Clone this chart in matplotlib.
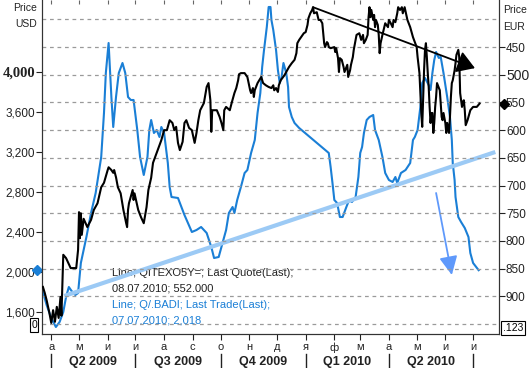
import numpy as np
import pandas as pd
import matplotlib
matplotlib.use("Agg")
import matplotlib.pyplot as plt
import matplotlib.transforms as mtransforms

plt.rcParams['font.family'] = ['Liberation Sans', 'DejaVu Sans']

# === Q/.BADI, USD (left axis) ===
blue_dates = ['2009-03-23', '2009-03-27', '2009-04-01', '2009-04-06', '2009-04-10', '2009-04-14',
              '2009-04-17', '2009-04-20', '2009-04-23', '2009-04-27', '2009-04-30', '2009-05-03',
              '2009-05-09', '2009-05-14', '2009-05-19', '2009-05-25', '2009-05-28', '2009-05-30',
              '2009-06-02', '2009-06-05', '2009-06-07', '2009-06-10', '2009-06-13', '2009-06-17',
              '2009-06-20', '2009-06-23', '2009-06-26', '2009-06-29', '2009-07-03', '2009-07-06',
              '2009-07-10', '2009-07-14', '2009-07-16', '2009-07-18', '2009-07-21', '2009-07-24',
              '2009-07-27', '2009-07-29', '2009-08-01', '2009-08-05', '2009-08-07', '2009-08-09',
              '2009-08-16', '2009-08-23', '2009-08-31', '2009-09-05', '2009-09-10', '2009-09-16',
              '2009-09-21', '2009-09-24', '2009-09-29', '2009-10-04', '2009-10-07', '2009-10-10',
              '2009-10-14', '2009-10-16', '2009-10-19', '2009-10-23', '2009-10-27', '2009-10-30',
              '2009-11-03', '2009-11-07', '2009-11-10', '2009-11-13', '2009-11-15', '2009-11-17',
              '2009-11-20', '2009-11-22', '2009-11-24', '2009-11-25', '2009-11-27', '2009-11-30',
              '2009-12-02', '2009-12-04', '2009-12-06', '2009-12-08', '2009-12-11', '2009-12-13',
              '2009-12-14', '2009-12-17', '2009-12-20', '2009-12-25', '2010-01-26', '2010-01-28',
              '2010-01-30', '2010-02-01', '2010-02-04', '2010-02-07', '2010-02-10', '2010-02-14',
              '2010-02-17', '2010-02-20', '2010-02-24', '2010-02-27', '2010-03-01', '2010-03-03',
              '2010-03-05', '2010-03-08', '2010-03-11', '2010-03-15', '2010-03-17', '2010-03-21',
              '2010-03-25', '2010-03-28', '2010-04-01', '2010-04-05', '2010-04-08', '2010-04-10',
              '2010-04-14', '2010-04-19', '2010-04-24', '2010-04-27', '2010-04-29', '2010-05-02',
              '2010-05-05', '2010-05-07', '2010-05-10', '2010-05-14', '2010-05-16', '2010-05-18',
              '2010-05-20', '2010-05-22', '2010-05-25', '2010-05-27', '2010-05-30', '2010-06-03',
              '2010-06-06', '2010-06-08', '2010-06-09', '2010-06-11', '2010-06-12', '2010-06-15',
              '2010-06-18', '2010-06-22', '2010-06-26', '2010-06-28', '2010-07-01', '2010-07-07']
blue_usd = [1800, 1670, 1540, 1450, 1500, 1600,
            1750, 1850, 1810, 1770, 1790, 2090,
            2350, 2590, 2790, 3150, 3590, 3990,
            4290, 3750, 3450, 3750, 3990, 4090,
            3990, 3750, 3720, 3720, 3420, 3150,
            2970, 3150, 3420, 3520, 3390, 3420,
            3350, 3450, 3390, 3090, 2850, 2750,
            2740, 2570, 2400, 2420, 2450, 2390,
            2250, 2140, 2150, 2320, 2420, 2590,
            2650, 2590, 2720, 2850, 2990, 3020,
            3190, 3320, 3590, 3790, 4050, 4220,
            4450, 4650, 4650, 4520, 4420, 4220,
            4020, 3890, 3950, 4090, 3990, 3850,
            3650, 3550, 3490, 3440, 3190, 3050,
            2890, 2720, 2690, 2550, 2550, 2650,
            2720, 2700, 2750, 2950, 3190, 3250,
            3390, 3520, 3550, 3570, 3420, 3320,
            3150, 2990, 2920, 2900, 2950, 2890,
            2990, 3020, 3090, 3320, 3350, 3420,
            3650, 3890, 3940, 3870, 3820, 3990,
            4120, 4200, 4140, 4150, 3990, 3750,
            3550, 3320, 3090, 2920, 2750, 2550,
            2500, 2440, 2350, 2190, 2090, 2018]

# === QITEXO5Y=, EUR (right axis, inverted) ===
black_dates = ['2009-03-23', '2009-03-25', '2009-03-27', '2009-03-30', '2009-04-01', '2009-04-03',
               '2009-04-05', '2009-04-07', '2009-04-09', '2009-04-11', '2009-04-12', '2009-04-14',
               '2009-04-17', '2009-04-22', '2009-04-28', '2009-04-30', '2009-05-01', '2009-05-02',
               '2009-05-03', '2009-05-04', '2009-05-06', '2009-05-10', '2009-05-14', '2009-05-17',
               '2009-05-21', '2009-05-25', '2009-05-28', '2009-06-01', '2009-06-02', '2009-06-05',
               '2009-06-07', '2009-06-08', '2009-06-10', '2009-06-12', '2009-06-15', '2009-06-18',
               '2009-06-21', '2009-06-22', '2009-06-23', '2009-06-24', '2009-06-28', '2009-06-29',
               '2009-06-30', '2009-07-04', '2009-07-07', '2009-07-10', '2009-07-13', '2009-07-15',
               '2009-07-18', '2009-07-20', '2009-07-24', '2009-07-27', '2009-07-29', '2009-08-01',
               '2009-08-04', '2009-08-07', '2009-08-10', '2009-08-12', '2009-08-14', '2009-08-16',
               '2009-08-18', '2009-08-21', '2009-08-23', '2009-08-25', '2009-08-28', '2009-08-31',
               '2009-09-03', '2009-09-05', '2009-09-07', '2009-09-09', '2009-09-13', '2009-09-16',
               '2009-09-18', '2009-09-20', '2009-09-21', '2009-09-22', '2009-09-27', '2009-09-30',
               '2009-10-02', '2009-10-04', '2009-10-05', '2009-10-07', '2009-10-11', '2009-10-13',
               '2009-10-16', '2009-10-18', '2009-10-20', '2009-10-21', '2009-10-23', '2009-10-27',
               '2009-10-30', '2009-11-02', '2009-11-03', '2009-11-05', '2009-11-06', '2009-11-07',
               '2009-11-10', '2009-11-14', '2009-11-16', '2009-11-19', '2009-11-22', '2009-11-25',
               '2009-11-27', '2009-11-28', '2009-11-30', '2009-12-02', '2009-12-03', '2009-12-05',
               '2009-12-09', '2009-12-11', '2009-12-14', '2009-12-17', '2009-12-20', '2009-12-22',
               '2009-12-23', '2009-12-25', '2009-12-30', '2010-01-01', '2010-01-03', '2010-01-04',
               '2010-01-06', '2010-01-08', '2010-01-09', '2010-01-10', '2010-01-13', '2010-01-15',
               '2010-01-17', '2010-01-19', '2010-01-20', '2010-01-21', '2010-01-22', '2010-01-24',
               '2010-01-25', '2010-01-26', '2010-01-28', '2010-02-01', '2010-02-02', '2010-02-03',
               '2010-02-05', '2010-02-06', '2010-02-07', '2010-02-09', '2010-02-11', '2010-02-12',
               '2010-02-15', '2010-02-16', '2010-02-18', '2010-02-19', '2010-02-21', '2010-02-22',
               '2010-02-24', '2010-02-25', '2010-02-28', '2010-03-02', '2010-03-04', '2010-03-05',
               '2010-03-07', '2010-03-09', '2010-03-10', '2010-03-11', '2010-03-12', '2010-03-13',
               '2010-03-15', '2010-03-16', '2010-03-17', '2010-03-18', '2010-03-20', '2010-03-21',
               '2010-03-22', '2010-03-23', '2010-03-25', '2010-03-28', '2010-03-31', '2010-04-01',
               '2010-04-03', '2010-04-05', '2010-04-06', '2010-04-08', '2010-04-10', '2010-04-11',
               '2010-04-13', '2010-04-15', '2010-04-16', '2010-04-18', '2010-04-21', '2010-04-24',
               '2010-04-27', '2010-05-01', '2010-05-02', '2010-05-04', '2010-05-05', '2010-05-06',
               '2010-05-07', '2010-05-08', '2010-05-09', '2010-05-10', '2010-05-11', '2010-05-12',
               '2010-05-13', '2010-05-14', '2010-05-15', '2010-05-16', '2010-05-17', '2010-05-18',
               '2010-05-19', '2010-05-20', '2010-05-21', '2010-05-22', '2010-05-23', '2010-05-26',
               '2010-05-27', '2010-05-28', '2010-05-29', '2010-05-30', '2010-06-01', '2010-06-02',
               '2010-06-03', '2010-06-05', '2010-06-06', '2010-06-07', '2010-06-08', '2010-06-09',
               '2010-06-11', '2010-06-12', '2010-06-13', '2010-06-15', '2010-06-16', '2010-06-17',
               '2010-06-18', '2010-06-19', '2010-06-20', '2010-06-21', '2010-06-22', '2010-06-23',
               '2010-06-25', '2010-06-26', '2010-06-28', '2010-07-01', '2010-07-05', '2010-07-08']
black_eur = [883, 894, 907, 930, 948, 925,
             946, 919, 939, 901, 935, 825,
             831, 849, 849, 816, 748, 795,
             750, 789, 760, 775, 762, 744,
             732, 703, 695, 672, 667, 672,
             677, 672, 685, 703, 714, 744,
             768, 775, 744, 732, 708, 726,
             714, 744, 757, 768, 739, 708,
             686, 659, 641, 627, 618, 600,
             600, 582, 587, 600, 594, 623,
             636, 621, 587, 582, 596, 600,
             623, 605, 582, 564, 551, 522,
             515, 546, 603, 564, 564, 576,
             587, 600, 564, 558, 564, 551,
             533, 524, 510, 499, 497, 497,
             504, 528, 533, 524, 540, 528,
             515, 504, 515, 519, 522, 524,
             519, 528, 524, 531, 519, 510,
             501, 495, 486, 479, 473, 461,
             443, 437, 425, 423, 410, 398,
             389, 383, 378, 389, 387, 401,
             401, 407, 425, 443, 450, 441,
             443, 450, 452, 450, 459, 452,
             470, 495, 470, 473, 486, 495,
             482, 504, 492, 482, 468, 455,
             437, 428, 425, 437, 428, 443,
             437, 428, 396, 378, 396, 383,
             401, 392, 414, 401, 410, 428,
             461, 443, 428, 407, 414, 401,
             407, 414, 401, 405, 389, 378,
             383, 378, 389, 378, 401, 414,
             432, 450, 468, 497, 533, 569,
             594, 540, 492, 455, 443, 468,
             497, 522, 558, 587, 569, 569,
             605, 587, 558, 540, 515, 528,
             551, 576, 582, 569, 587, 605,
             587, 605, 576, 540, 515, 510,
             492, 479, 464, 455, 468, 533,
             546, 558, 549, 546, 564, 591,
             582, 576, 564, 558, 558, 552]

# === trend lines / arrow drawn on the chart ===
light_trend_dates = ['2009-04-15', '2010-07-25']
light_trend_usd = [1760, 3200]
black_trend_dates = ['2010-01-09', '2010-07-03']
black_trend_eur = [378, 488]
blue_arrow_dates = ['2010-05-22', '2010-06-08']
blue_arrow_usd = [2790, 1970]

month_labels = ['а', 'м', 'и', 'и', 'а', 'с', 'о', 'н', 'д', 'я', 'ф', 'м', 'а', 'м', 'и', 'и']
quarter_starts = ['2009-04-01', '2009-07-01', '2009-10-01', '2010-01-01', '2010-04-01', '2010-07-01']
quarter_labels = ['Q2 2009', 'Q3 2009', 'Q4 2009', 'Q1 2010', 'Q2 2010']
usd_ticks = [1600, 2000, 2400, 2800, 3200, 3600, 4000]
usd_labels = ['1,600', '2,000', '2,400', '2,800', '3,200', '3,600', '4,000']
eur_ticks = [450, 500, 550, 600, 650, 700, 750, 800, 850, 900]
eur_grid = [400, 450, 500, 550, 600, 650, 700, 750, 800, 850, 900, 950]

blue_c = '#1a7fd6'
light_c = '#9ccaf5'
arrow_c = '#5f99fb'

bd = pd.to_datetime(blue_dates)
kd = pd.to_datetime(black_dates)
months = pd.date_range('2009-04-01', '2010-07-01', freq='MS')
qs = pd.to_datetime(quarter_starts)

fig = plt.figure(figsize=(5.3, 3.68), dpi=100)
ax = fig.add_axes([42/530, 1 - 334/368, 457/530, 334/368])
ax2 = ax.twinx()

# grid (EUR levels), dashed
for g in eur_grid:
    ax2.axhline(g, color='#9a9a9a', lw=0.9, ls=(0, (3, 3)), zorder=0)

ax.plot(bd, blue_usd, color=blue_c, lw=1.5, zorder=3)
ax.plot(pd.to_datetime(light_trend_dates), light_trend_usd, color=light_c, lw=3, solid_capstyle='butt', zorder=4)
ax.annotate('', xy=(pd.to_datetime(blue_arrow_dates[1]), blue_arrow_usd[1]),
            xytext=(pd.to_datetime(blue_arrow_dates[0]), blue_arrow_usd[0]),
            arrowprops=dict(arrowstyle='-|>,head_length=0.45,head_width=0.22', mutation_scale=25,
                            color=arrow_c, lw=1.3, shrinkA=0, shrinkB=0))

ax2.plot(kd, black_eur, color='black', lw=1.5, zorder=3)
ax2.annotate('', xy=(pd.to_datetime(black_trend_dates[1]), black_trend_eur[1]),
             xytext=(pd.to_datetime(black_trend_dates[0]), black_trend_eur[0]),
             arrowprops=dict(arrowstyle='-|>,head_length=0.4,head_width=0.25', mutation_scale=27,
                             color='black', lw=1.3, shrinkA=0, shrinkB=0))

ax.set_xlim(pd.Timestamp('2009-03-22'), pd.Timestamp('2010-07-29'))
ax.set_ylim(1380, 4720)
ax2.set_ylim(968, 365)

# axes styling
for a in (ax, ax2):
    a.spines['top'].set_visible(False)
    for s in ('left', 'right', 'bottom'):
        a.spines[s].set_color('#333333')
ax.set_yticks(usd_ticks)
ax.set_yticklabels(usd_labels)
ax.tick_params(axis='y', length=4, pad=1, labelsize=8.5, colors='#222222')
lab4000 = ax.get_yticklabels()[-1]
lab4000.set_fontfamily(['Liberation Serif', 'DejaVu Serif'])
lab4000.set_fontweight('bold')
lab4000.set_fontsize(10.5)

ax2.set_yticks(eur_ticks)
ax2.tick_params(axis='y', length=4, pad=1, labelsize=8.5, colors='#222222')
ax2.get_yticklabels()[1].set_fontsize(10)

ax.set_xticks(months)
ax.set_xticklabels(month_labels)
ax.tick_params(axis='x', length=4, pad=2, labelsize=8, colors='#222222')
top = ax.secondary_xaxis('top')
top.set_xticks(months)
top.tick_params(direction='in', length=3, labeltop=False, color='#666666')
top.spines['top'].set_visible(False)

# quarter row
xt = ax.get_xaxis_transform()
for d in qs:
    ax.plot([d, d], [-0.06, -0.105], transform=xt, color='#222222', lw=1, clip_on=False)
for i, lab in enumerate(quarter_labels):
    mid = qs[i] + (qs[i + 1] - qs[i]) / 2
    ax.text(mid, -0.084, lab, transform=xt, ha='center', va='center',
            fontsize=9, fontweight='bold', color='#222222')

# axis captions
fig.text(37/530, 1 - 8/368, 'Price', ha='right', va='center', fontsize=7.5, color='#222222')
fig.text(37/530, 1 - 24/368, 'USD', ha='right', va='center', fontsize=7.5, color='#222222')
fig.text(503/530, 1 - 10/368, 'Price', ha='left', va='center', fontsize=7.5, color='#222222')
fig.text(503/530, 1 - 27/368, 'EUR', ha='left', va='center', fontsize=7.5, color='#222222')
fig.text(34/530, 1 - 325/368, '0', ha='center', va='center', fontsize=7.5,
         bbox=dict(boxstyle='square,pad=0.15', fc='white', ec='black', lw=0.8))
fig.text(513/530, 1 - 328/368, '.123', ha='center', va='center', fontsize=7.5,
         bbox=dict(boxstyle='square,pad=0.15', fc='white', ec='black', lw=0.8))

# last value markers
ax.plot([-0.011], [blue_usd[-1]], marker='D', ms=5, color=blue_c,
        transform=mtransforms.blended_transform_factory(ax.transAxes, ax.transData), clip_on=False)
ax2.plot([1.011], [black_eur[-1]], marker='D', ms=5, color='black',
         transform=mtransforms.blended_transform_factory(ax2.transAxes, ax2.transData), clip_on=False)

# legend-like text
ax.text(0.153, 0.183, 'Line; QITEXO5Y=; Last Quote(Last);', transform=ax.transAxes, fontsize=8, color='#222222', va='center')
ax.text(0.153, 0.135, '08.07.2010; 552.000', transform=ax.transAxes, fontsize=8, color='#222222', va='center')
ax.text(0.153, 0.087, 'Line; Q/.BADI; Last Trade(Last);', transform=ax.transAxes, fontsize=8, color=blue_c, va='center')
ax.text(0.153, 0.039, '07.07.2010; 2,018', transform=ax.transAxes, fontsize=8, color=blue_c, va='center')

fig.savefig('out.png', dpi=100)
